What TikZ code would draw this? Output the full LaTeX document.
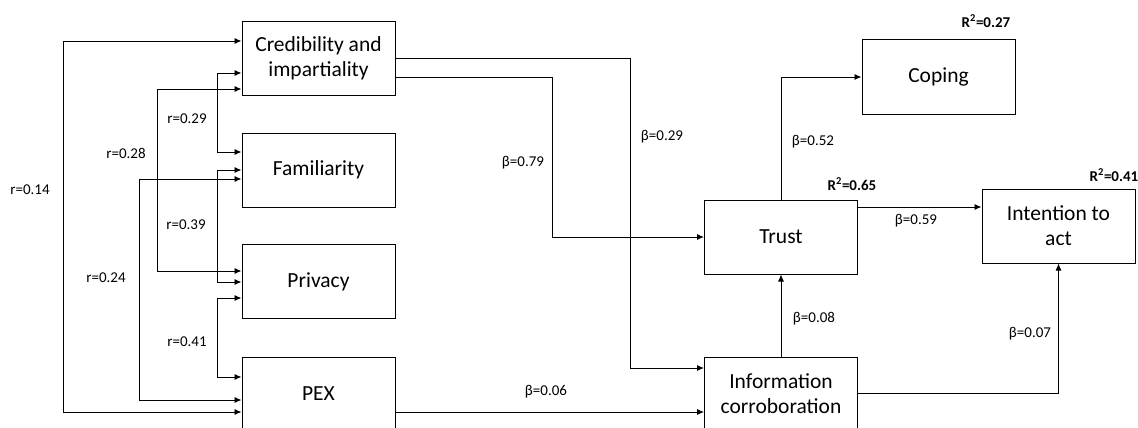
\documentclass[tikz,border=0pt]{standalone}
\usepackage{fontspec}
\setmainfont{Carlito}
\usetikzlibrary{arrows.meta}

\begin{document}
\begin{tikzpicture}[x=1pt,y=-1pt,
    box/.style={draw,line width=1pt,minimum width=153pt,minimum height=74pt,inner sep=0pt,
                align=center,font=\fontsize{21.5}{25}\selectfont},
    lab/.style={font=\fontsize{15}{18}\selectfont},
    rsq/.style={font=\fontsize{15}{18}\selectfont\bfseries},
    arr/.style={line width=0.9pt,-{Latex[length=7pt,width=6pt]}},
    corr/.style={line width=0.9pt,{Latex[length=7pt,width=6pt]}-{Latex[length=7pt,width=6pt]}}]
    \useasboundingbox (0,0) rectangle (1138,428);
    % constructs
    \node[box] (cred)   at (318.5,58.5)  {Credibility and\\impartiality};
    \node[box] (fam)    at (318.5,170)   {Familiarity};
    \node[box] (priv)   at (318.5,281.5) {Privacy};
    \node[box] (pex)    at (318.5,394)   {PEX};
    \node[box] (trust)  at (781,237)     {Trust};
    \node[box] (info)   at (781,394)     {Information\\corroboration};
    \node[box] (coping) at (938.5,77)    {Coping};
    \node[box] (intent) at (1058.5,226)  {Intention to\\act};
    % correlations
    \draw[corr] (cred.west |- 0,41) -| (63,412) -- (pex.west |- 0,412);
    \draw[corr] (cred.west |- 0,89) -| (157,271) -- (priv.west |- 0,271);
    \draw[corr] (cred.west |- 0,73) -| (217,152) -- (fam.west |- 0,152);
    \draw[corr] (fam.west |- 0,179) -| (139,400) -- (pex.west |- 0,400);
    \draw[corr] (fam.west |- 0,170) -| (217,282) -- (priv.west |- 0,282);
    \draw[corr] (priv.west |- 0,298) -| (217,377) -- (pex.west |- 0,377);
    \node[lab] (r14) at (30,190)  {r=0.14};
    \node[lab] (r28) at (126,153) {r=0.28};
    \node[lab] (r29) at (187,119) {r=0.29};
    \node[lab] (r24) at (106,278) {r=0.24};
    \node[lab] (r39) at (186,225) {r=0.39};
    \node[lab] (r41) at (187,342) {r=0.41};
    % paths
    \draw[arr] (cred.east |- 0,77) -- (552,77) |- (trust.west);
    \draw[arr] (cred.east |- 0,58) -- (630,58) |- (info.west |- 0,368);
    \draw[arr] (pex.east |- 0,412) -- (info.west |- 0,412);
    \draw[arr] (trust.north) |- (coping.west);
    \draw[arr] (trust.east |- 0,207) -- (intent.west |- 0,207);
    \draw[arr] (info.north) -- (trust.south);
    \draw[arr] (info.east |- 0,393) -| (intent.south);
    \node[lab] (b79) at (523,163) {β=0.79};
    \node[lab] (b29) at (662,137) {β=0.29};
    \node[lab] (b06) at (546,392) {β=0.06};
    \node[lab] (b52) at (813,142) {β=0.52};
    \node[lab] (b59) at (916,221) {β=0.59};
    \node[lab] (b08) at (814,319) {β=0.08};
    \node[lab] (b07) at (1030,334) {β=0.07};
    % explained variance
    \node[rsq] (rtrust)  at (852,184)  {R\textsuperscript{2}=0.65};
    \node[rsq] (rcoping) at (986,21)   {R\textsuperscript{2}=0.27};
    \node[rsq] (rintent) at (1114,175) {R\textsuperscript{2}=0.41};
\end{tikzpicture}
\end{document}
